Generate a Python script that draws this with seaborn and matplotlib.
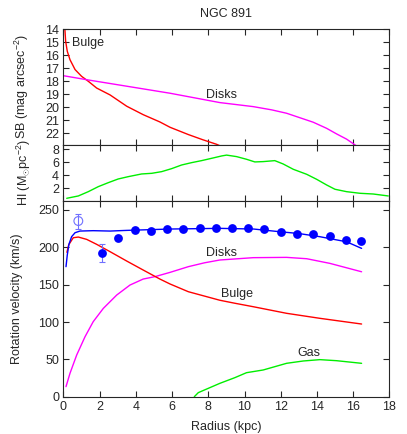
import numpy as np
import pandas as pd
import matplotlib
matplotlib.use("Agg")
import matplotlib.pyplot as plt
import seaborn as sns

# ---------------- data ----------------
# Surface brightness (top panel)
sb_bulge_r = [0.09, 0.13, 0.22, 0.37, 0.65, 1.01, 1.38, 1.84, 2.58, 3.50, 4.41,
              5.33, 5.89, 6.90, 7.70, 8.46, 8.70]
sb_bulge_mu = [14.03, 14.92, 15.69, 16.34, 17.10, 17.62, 18.00, 18.52, 19.05,
               19.92, 20.57, 21.13, 21.54, 22.10, 22.50, 22.85, 23.0]
sb_disk_r = [0.0, 1.38, 5.89, 8.64, 10.48, 11.50, 12.32, 13.79, 14.53, 15.08,
             15.63, 16.05, 16.2]
sb_disk_mu = [17.57, 17.90, 18.92, 19.64, 19.95, 20.20, 20.46, 21.15, 21.62,
              22.05, 22.45, 22.85, 23.0]

# HI surface density (middle panel)
hi_r = [0.19, 0.83, 1.38, 1.93, 2.48, 3.03, 3.59, 4.32, 4.88, 5.43, 5.98, 6.53,
        7.08, 7.63, 8.19, 8.74, 9.01, 9.56, 10.11, 10.57, 11.03, 11.67, 12.13,
        12.69, 13.43, 13.98, 14.53, 14.99, 15.63, 16.37, 17.10, 17.93]
hi_sigma = [0.46, 0.82, 1.48, 2.25, 2.86, 3.43, 3.79, 4.20, 4.30, 4.56, 5.02, 5.58,
            5.94, 6.25, 6.61, 6.97, 7.10, 6.87, 6.46, 6.05, 6.10, 6.25, 5.74,
            4.92, 4.15, 3.38, 2.51, 1.85, 1.48, 1.23, 1.12, 0.82]

# Rotation curve (bottom panel)
obs_r = [2.15, 3.04, 3.96, 4.84, 5.74, 6.63, 7.53, 8.41, 9.31, 10.2, 11.1,
         12.0, 12.9, 13.8, 14.7, 15.6, 16.45]
obs_v = [191.6, 211.5, 223.0, 222.0, 223.5, 224.0, 225.7, 226.0, 226.0, 226.0,
         223.5, 220.0, 217.7, 216.8, 215.0, 210.0, 207.5]
err_r = [2.15]
err_v = [191.6]
err_size = [12.0]
open_r = [0.83]
open_v = [234.7]
open_err = [10.0]

model_r = [0.15, 0.22, 0.31, 0.46, 0.65, 0.92, 1.65, 2.58, 3.50, 5.89, 8.64,
           10.5, 11.95, 13.0, 14.15, 15.63, 16.46]
model_v = [173.8, 189.3, 203.6, 213.8, 219.1, 221.3, 221.8, 221.3, 222.2, 224.0,
           224.9, 224.0, 220.4, 218.0, 213.8, 207.0, 198.2]

bulge_r = [0.20, 0.30, 0.55, 0.83, 1.29, 1.84, 2.58, 3.50, 4.41, 5.33, 5.89,
           6.90, 8.64, 9.47, 10.48, 12.32, 14.16, 16.46]
bulge_v = [193.0, 203.0, 212.4, 213.3, 210.2, 203.6, 193.8, 181.3, 169.3, 157.3,
           150.7, 140.4, 129.0, 125.0, 120.4, 111.6, 104.9, 97.3]

disk_r = [0.15, 0.37, 0.74, 1.20, 1.65, 2.21, 2.95, 3.68, 4.41, 5.06, 5.89,
          6.90, 7.80, 8.64, 10.48, 12.32, 13.43, 14.71, 16.46]
disk_v = [13.8, 31.6, 56.0, 80.4, 100.4, 118.2, 136.0, 149.3, 157.3, 160.5,
          166.2, 173.8, 179.0, 182.7, 185.8, 186.2, 184.4, 178.2, 167.0]

gas_r = [7.23, 7.45, 8.64, 9.47, 10.11, 11.03, 12.32, 13.24, 14.16, 15.08, 16.46]
gas_v = [0.4, 5.8, 18.2, 25.8, 32.4, 36.0, 44.9, 48.0, 49.8, 48.4, 44.9]

x_ticks = [0, 2, 4, 6, 8, 10, 12, 14, 16, 18]
sb_ticks = [14, 15, 16, 17, 18, 19, 20, 21, 22]
hi_ticks = [2, 4, 6, 8]
v_ticks = [0, 50, 100, 150, 200, 250]

# ---------------- style ----------------
sns.set_style("ticks")
plt.rcParams['font.family'] = ['Liberation Sans', 'DejaVu Sans']
plt.rcParams['mathtext.fontset'] = 'custom'
plt.rcParams['mathtext.rm'] = 'Liberation Sans'
plt.rcParams['mathtext.it'] = 'Liberation Sans'
plt.rcParams['font.size'] = 9
plt.rcParams['axes.linewidth'] = 0.8

RED = '#ff0000'
MAG = '#ff00ff'
GRN = '#00ee00'
BLU = '#0000ff'
LBLU = '#7070ff'

fig = plt.figure(figsize=(4.07, 4.34), dpi=100)
left, width = 0.1555, 0.8015
ax1 = fig.add_axes([left, 0.6666, width, 0.2659])
ax2 = fig.add_axes([left, 0.5362, width, 0.1304])
ax3 = fig.add_axes([left, 0.0853, width, 0.4509])

lw = 1.0

# top panel
sns.lineplot(x=sb_bulge_r, y=sb_bulge_mu, ax=ax1, color=RED, lw=lw, sort=False,
             estimator=None)
sns.lineplot(x=sb_disk_r, y=sb_disk_mu, ax=ax1, color=MAG, lw=lw, sort=False,
             estimator=None)
ax1.set_ylim(22.88, 14)
ax1.set_yticks(sb_ticks)
ax1.set_ylabel(r"SB (mag arcsec$^{-2}$)", va='center')
ax1.text(0.46, 15.05, "Bulge", ha='left', va='center', fontsize=9)
ax1.text(8.74, 19.06, "Disks", ha='center', va='center', fontsize=9)
ax1.set_title("NGC 891", fontsize=9, pad=9)

# middle panel
sns.lineplot(x=hi_r, y=hi_sigma, ax=ax2, color=GRN, lw=lw, sort=False,
             estimator=None)
ax2.set_ylim(0, 8.7)
ax2.set_yticks(hi_ticks)
ax2.set_ylabel(r"HI (M$_{\odot}$pc$^{-2}$)", va='center')

# bottom panel
sns.lineplot(x=disk_r, y=disk_v, ax=ax3, color=MAG, lw=lw, sort=False, estimator=None)
sns.lineplot(x=bulge_r, y=bulge_v, ax=ax3, color=RED, lw=lw, sort=False, estimator=None)
sns.lineplot(x=gas_r, y=gas_v, ax=ax3, color=GRN, lw=lw, sort=False, estimator=None)
sns.lineplot(x=model_r, y=model_v, ax=ax3, color=BLU, lw=lw, sort=False, estimator=None)
ax3.errorbar(err_r, err_v, yerr=err_size, fmt='none', ecolor=LBLU,
             elinewidth=0.8, capsize=2.5, capthick=0.8)
ax3.errorbar(open_r, open_v, yerr=open_err, fmt='none', ecolor=LBLU,
             elinewidth=0.8, capsize=2.5, capthick=0.8)
sns.scatterplot(x=obs_r, y=obs_v, ax=ax3, color=BLU, s=40, edgecolor=BLU,
                linewidth=0, zorder=5)
sns.scatterplot(x=open_r, y=open_v, ax=ax3, facecolor='none', edgecolor=LBLU,
                s=40, linewidth=0.8, zorder=5)
ax3.set_ylim(0, 261)
ax3.set_yticks(v_ticks)
ax3.set_ylabel("Rotation velocity (km/s)", va='center')
ax3.set_xlabel("Radius (kpc)", labelpad=6)
ax3.text(8.75, 191.6, "Disks", ha='center', va='center', fontsize=9)
ax3.text(9.56, 138, "Bulge", ha='center', va='center', fontsize=9)
ax3.text(13.55, 59, "Gas", ha='center', va='center', fontsize=9)

for ax in (ax1, ax2, ax3):
    ax.set_xlim(0, 18)
    ax.set_xticks(x_ticks)
    ax.tick_params(direction='in', top=True, right=True, length=4, width=0.8,
                   labelsize=9, pad=3)
    for s in ax.spines.values():
        s.set_visible(True)
        s.set_linewidth(0.8)
    ax.set_facecolor('white')
for ax in (ax1, ax2):
    ax.tick_params(labelbottom=False)
    ax.set_xlabel("")

def px2ax(px):
    return (px - 63.3) / 326.2

ax1.yaxis.set_label_coords(px2ax(22.0), 0.5)
ax2.yaxis.set_label_coords(px2ax(23.5), 0.5)
ax3.yaxis.set_label_coords(px2ax(17.0), 0.5)

fig.savefig("out.png", dpi=100)
